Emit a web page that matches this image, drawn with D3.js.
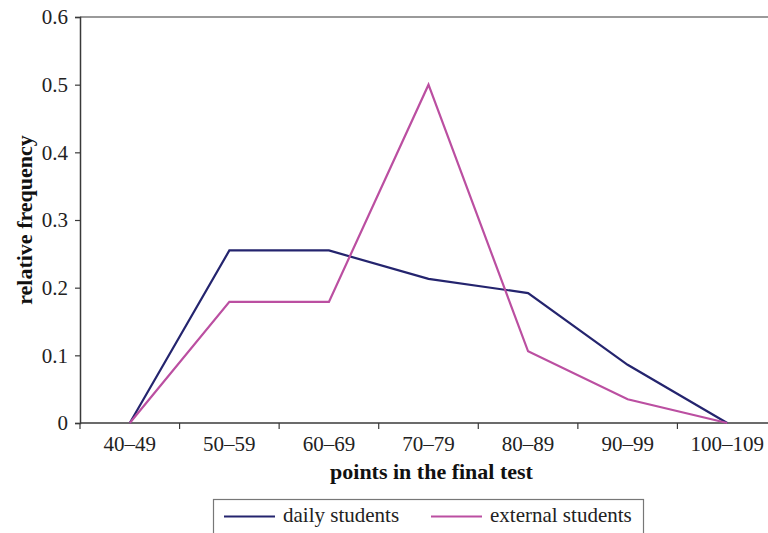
<!DOCTYPE html>
<html>
<head>
<meta charset="utf-8">
<script src="https://cdn.jsdelivr.net/npm/d3@7/dist/d3.min.js"></script>
<style>
  html, body { margin: 0; padding: 0; background: #fff; overflow: hidden; }
  svg { display: block; font-family: "Liberation Serif", "DejaVu Serif", serif; }
</style>
</head>
<body>
<svg id="chart" width="768" height="533"></svg>
<script>
// Score bands and relative frequencies per group
const categories = ["40–49", "50–59", "60–69", "70–79", "80–89", "90–99", "100–109"];
const dailyStudents = [0, 0.255, 0.255, 0.213, 0.192, 0.086, 0];
const externalStudents = [0, 0.179, 0.179, 0.5, 0.106, 0.035, 0];
const yTicks = [0, 0.1, 0.2, 0.3, 0.4, 0.5, 0.6];

const series = [
  { name: "daily students", values: dailyStudents, color: "#24246e" },
  { name: "external students", values: externalStudents, color: "#bb4fa1" }
];

const FONT = "'Liberation Serif', 'DejaVu Serif', serif";
const svg = d3.select("#chart");
const margin = { left: 80, top: 17, right: 777, bottom: 423 };

const x = d3.scaleBand().domain(categories).range([margin.left, margin.right]);
const y = d3.scaleLinear().domain([0, 0.6]).range([margin.bottom, margin.top]);

// top frame line of the plot area
svg.append("line")
  .attr("x1", margin.left).attr("x2", margin.right)
  .attr("y1", margin.top).attr("y2", margin.top)
  .attr("stroke", "#9a9a9a").attr("stroke-width", 2);

// y axis
const yAxis = svg.append("g")
  .attr("transform", `translate(${margin.left},0)`)
  .call(d3.axisLeft(y).tickValues(yTicks).tickSize(5).tickPadding(7)
    .tickFormat(d => d === 0 ? "0" : d3.format(".1f")(d)));
yAxis.attr("font-family", FONT).attr("font-size", 21);
yAxis.select(".domain").attr("stroke", "#3a3a3a").attr("stroke-width", 1.5);
yAxis.selectAll(".tick line").attr("stroke", "#3a3a3a").attr("stroke-width", 1.2);
yAxis.selectAll(".tick text").attr("fill", "#222");

// x axis: ticks sit on band boundaries, labels at band centres
const bounds = categories.map(c => x(c)).concat([x(categories[categories.length - 1]) + x.bandwidth()]);
const xAxis = svg.append("g").attr("transform", `translate(0,${margin.bottom})`);
xAxis.append("line")
  .attr("x1", margin.left).attr("x2", margin.right)
  .attr("stroke", "#3a3a3a").attr("stroke-width", 1.5);
xAxis.selectAll("line.tk").data(bounds).join("line").attr("class", "tk")
  .attr("x1", d => d).attr("x2", d => d).attr("y1", 0).attr("y2", 6)
  .attr("stroke", "#3a3a3a").attr("stroke-width", 1.2);
xAxis.selectAll("text").data(categories).join("text")
  .attr("x", d => x(d) + x.bandwidth() / 2)
  .attr("y", 28)
  .attr("text-anchor", "middle")
  .attr("font-family", FONT)
  .attr("font-size", 21).attr("fill", "#222")
  .text(d => d);

// lines
const line = d3.line()
  .x((d, i) => x(categories[i]) + x.bandwidth() / 2)
  .y(d => y(d));

svg.selectAll("path.series").data(series).join("path").attr("class", "series")
  .attr("d", d => line(d.values))
  .attr("fill", "none")
  .attr("stroke", d => d.color)
  .attr("stroke-width", 2.2)
  .attr("stroke-linejoin", "miter");

// axis titles
svg.append("text")
  .attr("x", 431.5)
  .attr("y", 479)
  .attr("text-anchor", "middle")
  .attr("font-family", FONT)
  .attr("font-size", 22).attr("font-weight", "bold").attr("fill", "#111")
  .text("points in the final test");

svg.append("text")
  .attr("transform", `translate(32,${(margin.top + margin.bottom) / 2}) rotate(-90)`)
  .attr("text-anchor", "middle")
  .attr("font-family", FONT)
  .attr("font-size", 22).attr("font-weight", "bold").attr("fill", "#111")
  .text("relative frequency");

// legend
const legend = svg.append("g");
legend.append("rect")
  .attr("x", 213.5).attr("y", 499.5).attr("width", 430).attr("height", 50)
  .attr("fill", "#fff").attr("stroke", "#777").attr("stroke-width", 1.2);
const items = legend.selectAll("g.item").data(series).join("g").attr("class", "item")
  .attr("transform", (d, i) => `translate(${i === 0 ? 224 : 431},516.5)`);
items.append("line").attr("x1", 0).attr("x2", 51)
  .attr("stroke", d => d.color).attr("stroke-width", 2.2);
items.append("text").attr("x", 59).attr("y", 5.5)
  .attr("font-family", FONT)
  .attr("font-size", 21).attr("fill", "#222")
  .text(d => d.name);
</script>
</body>
</html>
